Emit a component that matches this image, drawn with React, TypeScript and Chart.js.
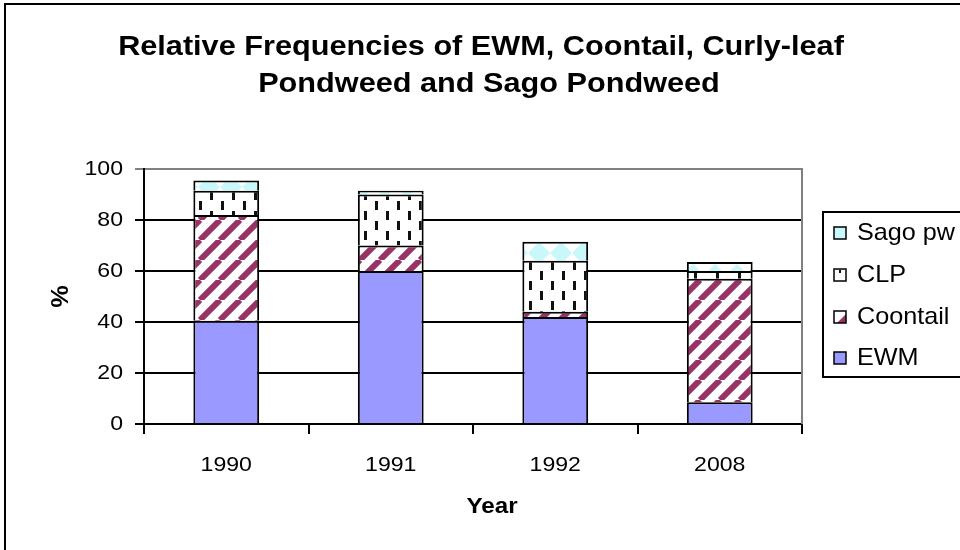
import React, { useEffect, useRef } from 'react';
import { Chart, registerables } from 'chart.js';

Chart.register(...registerables);

// Survey years and the share (%) of sampled sites where each plant was found
const years = ['1990', '1991', '1992', '2008'];
const ewm = [40.5, 60, 42, 8.5];
const coontail = [41.5, 10, 2, 48.5];
const clp = [9.5, 20, 20, 3];
const sagoPw = [4, 1.5, 7.5, 3.5];

const yTicks = [0, 20, 40, 60, 80, 100];
const titleLines = ['Relative Frequencies of EWM, Coontail, Curly-leaf', 'Pondweed and Sago Pondweed'];
const legendLabels = ['Sago pw', 'CLP', 'Coontail', 'EWM'];

const FONT = '"Liberation Sans", Arial, sans-serif';

function tile(w: number, h: number, paint: (g: CanvasRenderingContext2D) => void) {
  const c = document.createElement('canvas');
  c.width = w;
  c.height = h;
  const g = c.getContext('2d')!;
  paint(g);
  return c;
}

function makePatterns(ctx: CanvasRenderingContext2D) {
  const stripes = tile(20, 20, (g) => {
    g.fillStyle = '#ffffff';
    g.fillRect(0, 0, 20, 20);
    g.strokeStyle = '#993366';
    g.lineWidth = 6;
    for (let k = -1; k <= 1; k++) {
      g.beginPath();
      g.moveTo(k * 20, 20);
      g.lineTo(k * 20 + 20, 0);
      g.stroke();
    }
  });
  const dashes = tile(22, 20, (g) => {
    g.fillStyle = '#ffffff';
    g.fillRect(0, 0, 22, 20);
    g.fillStyle = '#111111';
    g.fillRect(1, 1, 3, 9);
    g.fillRect(12, 11, 3, 9);
  });
  const diamonds = tile(22, 22, (g) => {
    g.fillStyle = '#ffffff';
    g.fillRect(0, 0, 22, 22);
    g.fillStyle = '#c8f8fa';
    g.beginPath();
    g.moveTo(11, 0);
    g.lineTo(22, 11);
    g.lineTo(11, 22);
    g.lineTo(0, 11);
    g.closePath();
    g.fill();
  });
  return {
    stripes: ctx.createPattern(stripes, 'repeat')!,
    dashes: ctx.createPattern(dashes, 'repeat')!,
    diamonds: ctx.createPattern(diamonds, 'repeat')!,
  };
}

function drawText(
  ctx: CanvasRenderingContext2D,
  text: string,
  x: number,
  y: number,
  font: string,
  align: CanvasTextAlign,
  sx: number,
  rotate = 0
) {
  ctx.save();
  ctx.font = font;
  ctx.fillStyle = '#000000';
  ctx.textAlign = align;
  ctx.textBaseline = 'middle';
  ctx.translate(x, y);
  if (rotate) ctx.rotate(rotate);
  ctx.scale(sx, 1);
  ctx.fillText(text, 0, 0);
  ctx.restore();
}

export default function App() {
  const canvasRef = useRef<HTMLCanvasElement | null>(null);

  useEffect(() => {
    const canvas = canvasRef.current!;
    const ctx = canvas.getContext('2d')!;
    const pat = makePatterns(ctx);

    const decorations = {
      id: 'decorations',
      afterDraw(chart: any) {
        const c: CanvasRenderingContext2D = chart.ctx;
        const { right, top, bottom } = chart.chartArea;
        const xs = chart.scales.x;
        const ys = chart.scales.y;

        // outer frame
        c.save();
        c.strokeStyle = '#000000';
        c.lineWidth = 2;
        c.strokeRect(5, 4, 1000, 600);
        c.restore();

        // plot area right edge
        c.save();
        c.strokeStyle = '#808080';
        c.lineWidth = 2;
        c.beginPath();
        c.moveTo(right, top - 1);
        c.lineTo(right, bottom);
        c.stroke();
        c.restore();

        // title
        drawText(c, titleLines[0], 481, 47, `bold 28px ${FONT}`, 'center', 1.095);
        drawText(c, titleLines[1], 489, 84, `bold 28px ${FONT}`, 'center', 1.095);

        // y tick labels
        yTicks.forEach((v) => {
          drawText(c, String(v), 123, ys.getPixelForValue(v), `21px ${FONT}`, 'right', 1.1);
        });
        // x tick labels
        years.forEach((yr, i) => {
          drawText(c, yr, xs.getPixelForValue(i), 465, `21px ${FONT}`, 'center', 1.1);
        });

        // axis titles
        drawText(c, '%', 62, (top + bottom) / 2, `bold 23px ${FONT}`, 'center', 1.1, -Math.PI / 2);
        drawText(c, 'Year', 492, 507, `bold 22px ${FONT}`, 'center', 1.1);

        // legend
        c.save();
        c.strokeStyle = '#000000';
        c.lineWidth = 2;
        c.strokeRect(823, 212, 200, 165);
        c.restore();
        const rowY = [233, 275, 317, 358];
        rowY.forEach((yy, i) => {
          const sx0 = 834;
          const sy0 = yy - 6;
          c.save();
          if (i === 0) {
            c.fillStyle = '#c8f8fa';
            c.fillRect(sx0, sy0, 12, 12);
          } else if (i === 1) {
            c.fillStyle = '#ffffff';
            c.fillRect(sx0, sy0, 12, 12);
            c.fillStyle = '#111111';
            c.fillRect(sx0 + 5, sy0 + 1, 2, 3);
          } else if (i === 2) {
            c.fillStyle = '#ffffff';
            c.fillRect(sx0, sy0, 12, 12);
            c.fillStyle = '#993366';
            c.beginPath();
            c.moveTo(sx0 + 12, sy0 + 3);
            c.lineTo(sx0 + 12, sy0 + 12);
            c.lineTo(sx0 + 3, sy0 + 12);
            c.closePath();
            c.fill();
          } else {
            c.fillStyle = '#9999FF';
            c.fillRect(sx0, sy0, 12, 12);
          }
          c.strokeStyle = '#000000';
          c.lineWidth = 1.5;
          c.strokeRect(sx0, sy0, 12, 12);
          c.restore();
          drawText(c, legendLabels[i], 857, yy, `24px ${FONT}`, 'left', 1.05);
        });
      },
    };

    const bar = (label: string, data: number[], bg: any) => ({
      label,
      data,
      backgroundColor: bg,
      borderColor: '#000000',
      borderWidth: 2,
      barPercentage: 0.4,
      categoryPercentage: 1,
    });

    const chart = new Chart(canvas, {
      type: 'bar',
      data: {
        labels: years,
        datasets: [
          bar('EWM', ewm, '#9999FF'),
          bar('Coontail', coontail, pat.stripes),
          bar('CLP', clp, pat.dashes),
          bar('Sago pw', sagoPw, pat.diamonds),
        ],
      },
      options: {
        animation: false,
        responsive: false,
        devicePixelRatio: 1,
        layout: { padding: { left: 0, top: 169, right: 158, bottom: 0 } },
        plugins: {
          legend: { display: false },
          title: { display: false },
          tooltip: { enabled: false },
        },
        scales: {
          x: {
            stacked: true,
            ticks: { display: false },
            grid: {
              display: true,
              drawOnChartArea: false,
              offset: true,
              color: '#000000',
              lineWidth: 2,
              tickLength: 10,
            },
            border: { color: '#000000', width: 2 },
            afterFit: (s: any) => {
              s.height = 126;
            },
          },
          y: {
            stacked: true,
            min: 0,
            max: 100,
            ticks: { display: false, stepSize: 20 },
            grid: {
              color: (g: any) => (g.tick && g.tick.value === 100 ? '#808080' : '#000000'),
              lineWidth: 2,
              tickLength: 9,
            },
            border: { color: '#000000', width: 2 },
            afterFit: (s: any) => {
              s.width = 144;
            },
          },
        },
      },
      plugins: [decorations],
    });

    return () => chart.destroy();
  }, []);

  return (
    <div style={{ position: 'absolute', left: 0, top: 0, width: 960, height: 550, background: '#ffffff' }}>
      <canvas ref={canvasRef} width={960} height={550} style={{ display: 'block' }} />
    </div>
  );
}
